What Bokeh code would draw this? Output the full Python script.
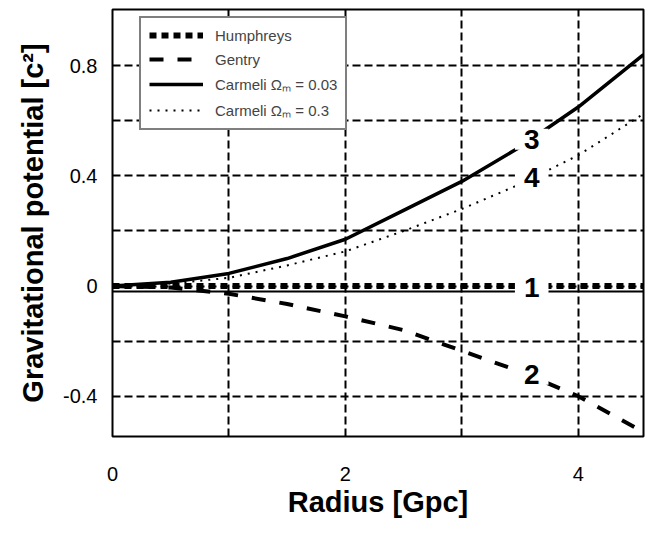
from bokeh.plotting import figure
from bokeh.models import (Range1d, FixedTicker, Legend, LegendItem, Label, Span)
from bokeh.embed import file_html
from bokeh.resources import INLINE

# ---- data ----
radius = [0, 0.5, 1, 1.5, 2, 2.5, 3, 3.5, 4, 4.56]
humphreys = [0, 0, 0, 0, 0, 0, 0, 0, 0, 0]
gentry = [0, -0.005, -0.028, -0.065, -0.11, -0.16, -0.235, -0.31, -0.4, -0.53]
carmeli_003 = [0, 0.014, 0.046, 0.1, 0.17, 0.275, 0.38, 0.505, 0.65, 0.84]
carmeli_03 = [0, 0.009, 0.03, 0.075, 0.126, 0.2, 0.28, 0.37, 0.475, 0.625]

series_names = ["Humphreys", "Gentry", "Carmeli \u03a9\u2098 = 0.03", "Carmeli \u03a9\u2098 = 0.3"]

x_tick_values = [0, 2, 4]
x_grid_values = [1, 2, 3, 4]
y_tick_values = [-0.4, 0, 0.4, 0.8]
y_tick_labels = ["-0.4", "0", "0.4", "0.8"]
y_grid_values = [-0.4, -0.2, 0, 0.2, 0.4, 0.6, 0.8]
baseline_value = -0.02

x_title = "Radius [Gpc]"
y_title = "Gravitational potential [c\u00b2]"

curve_label_text = ["1", "2", "3", "4"]
curve_label_x = [3.6, 3.6, 3.6, 3.6]
curve_label_y = [-0.005, -0.32, 0.533, 0.395]

FONT = "Liberation Sans"

p = figure(width=645, height=520, output_backend="svg", toolbar_location=None,
           x_range=Range1d(0, 4.56), y_range=Range1d(-0.546, 1.004),
           min_border_left=112, min_border_right=2, min_border_top=9, min_border_bottom=82)

p.background_fill_color = "white"
p.border_fill_color = "white"
p.outline_line_color = "black"
p.outline_line_width = 2

# grids
p.xgrid.ticker = FixedTicker(ticks=x_grid_values)
p.ygrid.ticker = FixedTicker(ticks=y_grid_values)
for g in (p.xgrid, p.ygrid):
    g.grid_line_color = "black"
    g.grid_line_width = 2
    g.grid_line_dash = "8 4"

# axes
p.xaxis.ticker = FixedTicker(ticks=x_tick_values)
p.yaxis.ticker = FixedTicker(ticks=y_tick_values)
p.yaxis.major_label_overrides = {v: s for v, s in zip(y_tick_values, y_tick_labels)}
p.xaxis.axis_label = x_title
p.yaxis.axis_label = y_title
for ax in (p.xaxis, p.yaxis):
    ax.axis_line_color = None
    ax.major_tick_line_color = None
    ax.minor_tick_line_color = None
    ax.major_tick_out = 0
    ax.major_label_text_font = FONT
    ax.major_label_text_font_size = "20px"
    ax.major_label_text_color = "black"
    ax.axis_label_text_font = FONT
    ax.axis_label_text_font_size = "29px"
    ax.axis_label_text_font_style = "bold"
    ax.axis_label_text_color = "black"
p.xaxis.major_label_standoff = 30
p.xaxis.axis_label_standoff = 2
p.yaxis.major_label_standoff = 15
p.yaxis.axis_label_standoff = 11

# baseline
p.add_layout(Span(location=baseline_value, dimension="width", line_color="black", line_width=2))

# series
r1 = p.line(radius, humphreys, line_color="black", line_width=6, line_dash="7 5")
r2 = p.line(radius, gentry, line_color="black", line_width=4, line_dash="14 14")
r3 = p.line(radius, carmeli_003, line_color="black", line_width=3.5)
r4 = p.line(radius, carmeli_03, line_color="black", line_width=2, line_dash="2 6")

legend = Legend(items=[LegendItem(label=n, renderers=[r]) for n, r in zip(series_names, [r1, r2, r3, r4])],
                location=(27, 306))
legend.border_line_color = "black"
legend.border_line_width = 2
legend.background_fill_color = "white"
legend.background_fill_alpha = 1
legend.label_text_font = FONT
legend.label_text_font_size = "15px"
legend.glyph_width = 54
legend.glyph_height = 18
legend.label_height = 18
legend.spacing = 6
legend.padding = 8
legend.label_standoff = 12
legend.margin = 0
p.add_layout(legend)

for t, xv, yv in zip(curve_label_text, curve_label_x, curve_label_y):
    p.add_layout(Label(x=xv, y=yv, text=t, text_font=FONT, text_font_size="28px",
                       text_font_style="bold", text_color="black",
                       text_align="center", text_baseline="middle",
                       background_fill_color="white", padding=(9, 1)))

open("out.html", "w").write(file_html(p, INLINE))
